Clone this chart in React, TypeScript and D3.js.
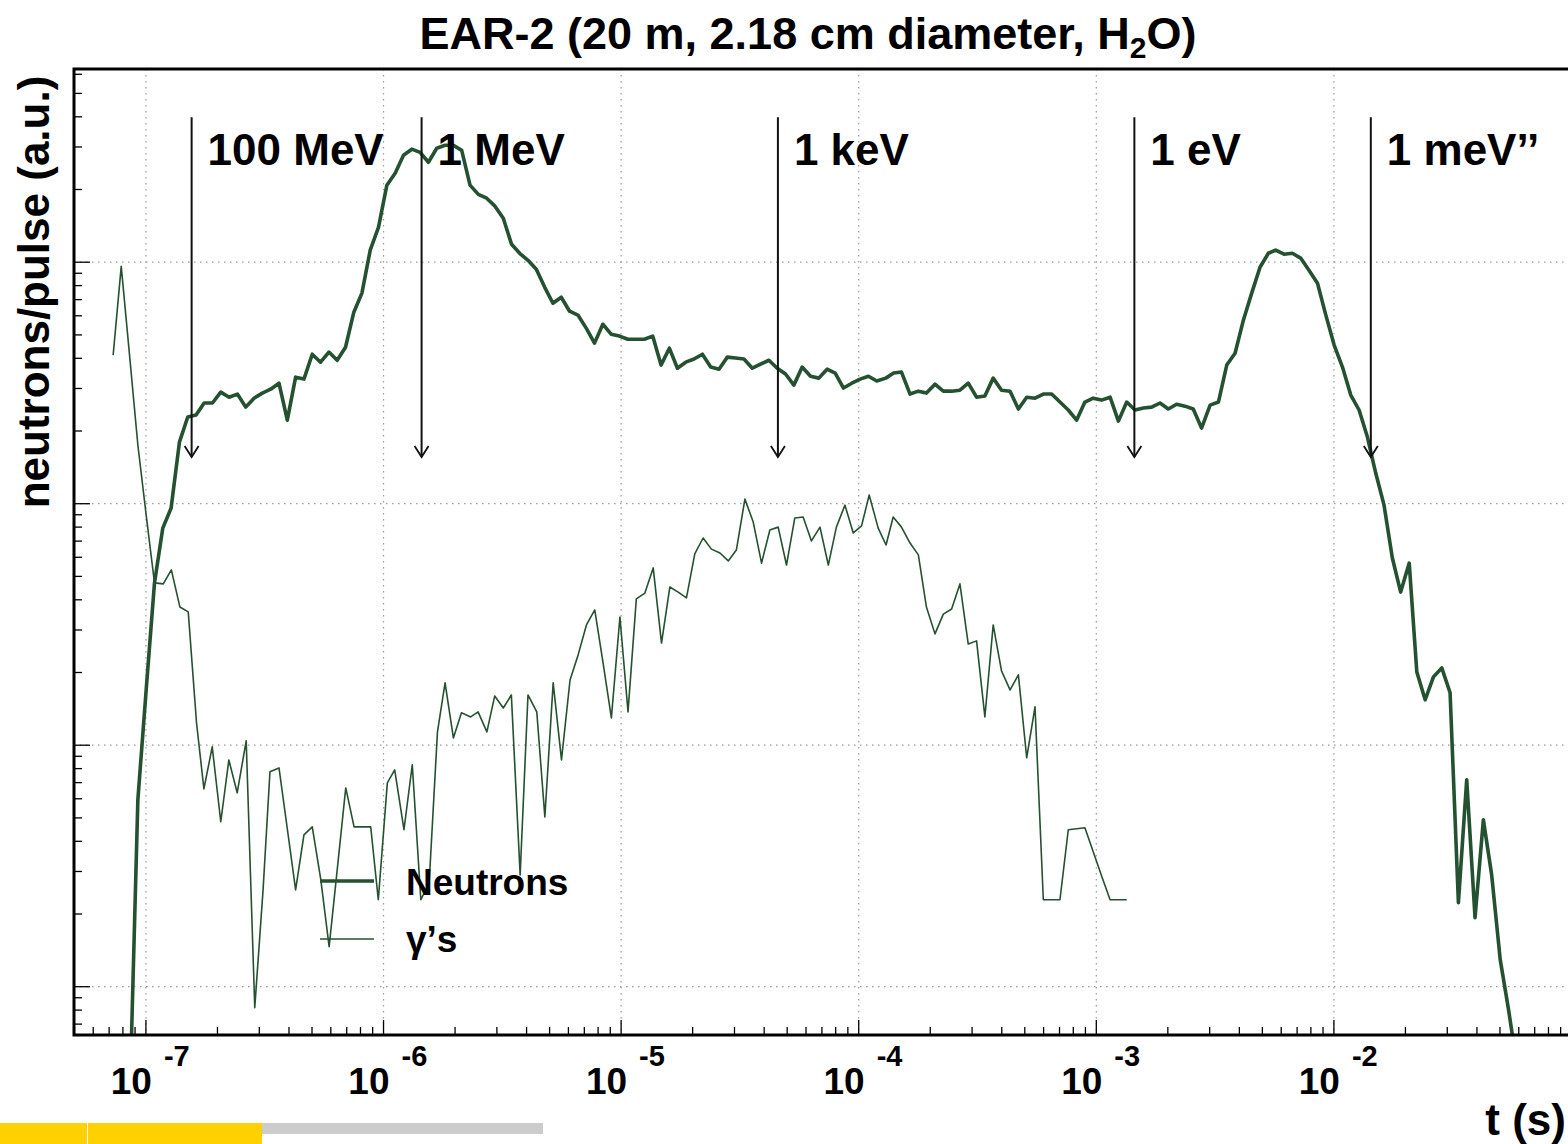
import React from "react";
import * as d3 from "d3";

// ---- data (log10 of time in s, log10 of neutrons/pulse in a.u.) ----
const neutrons: [number, number][] = [
  [-7.069,0.491],[-7.034,1.774],[-6.999,2.229],[-6.964,2.672],[-6.929,2.899],[-6.894,2.982],[-6.859,3.255],[-6.824,3.359],[-6.789,3.367],[-6.755,3.417],
  [-6.720,3.417],[-6.685,3.462],[-6.650,3.441],[-6.615,3.454],[-6.580,3.400],[-6.545,3.437],[-6.510,3.458],[-6.475,3.474],[-6.440,3.499],[-6.405,3.346],
  [-6.370,3.524],[-6.335,3.516],[-6.300,3.619],[-6.265,3.586],[-6.230,3.628],[-6.195,3.594],[-6.160,3.648],[-6.125,3.793],[-6.091,3.872],[-6.056,4.050],
  [-6.021,4.145],[-5.986,4.319],[-5.951,4.368],[-5.916,4.443],[-5.881,4.468],[-5.846,4.455],[-5.811,4.414],[-5.776,4.472],[-5.741,4.484],[-5.706,4.484],
  [-5.671,4.463],[-5.636,4.319],[-5.601,4.281],[-5.566,4.265],[-5.531,4.232],[-5.496,4.182],[-5.461,4.074],[-5.427,4.037],[-5.392,4.008],[-5.357,3.971],
  [-5.322,3.897],[-5.287,3.830],[-5.252,3.855],[-5.217,3.797],[-5.182,3.781],[-5.147,3.727],[-5.112,3.665],[-5.077,3.743],[-5.042,3.702],[-5.007,3.694],
  [-4.972,3.681],[-4.937,3.681],[-4.902,3.681],[-4.867,3.694],[-4.832,3.574],[-4.797,3.644],[-4.763,3.561],[-4.728,3.586],[-4.693,3.599],[-4.658,3.619],
  [-4.623,3.566],[-4.588,3.557],[-4.553,3.607],[-4.518,3.603],[-4.483,3.599],[-4.448,3.561],[-4.413,3.578],[-4.378,3.594],[-4.343,3.561],[-4.308,3.537],
  [-4.273,3.491],[-4.238,3.566],[-4.203,3.528],[-4.168,3.520],[-4.133,3.557],[-4.099,3.541],[-4.064,3.479],[-4.029,3.499],[-3.994,3.516],[-3.959,3.528],
  [-3.924,3.508],[-3.886,3.520],[-3.853,3.541],[-3.820,3.545],[-3.784,3.454],[-3.749,3.466],[-3.715,3.458],[-3.679,3.495],[-3.644,3.466],[-3.609,3.466],
  [-3.574,3.470],[-3.539,3.499],[-3.504,3.441],[-3.469,3.446],[-3.434,3.520],[-3.399,3.470],[-3.363,3.466],[-3.328,3.392],[-3.293,3.441],[-3.258,3.437],
  [-3.223,3.454],[-3.188,3.454],[-3.153,3.421],[-3.118,3.388],[-3.083,3.346],[-3.048,3.421],[-3.013,3.437],[-2.978,3.429],[-2.942,3.441],[-2.907,3.342],
  [-2.872,3.421],[-2.837,3.388],[-2.802,3.396],[-2.767,3.400],[-2.732,3.417],[-2.697,3.392],[-2.662,3.412],[-2.627,3.404],[-2.592,3.392],[-2.557,3.313],
  [-2.521,3.408],[-2.486,3.421],[-2.451,3.574],[-2.416,3.623],[-2.381,3.760],[-2.346,3.872],[-2.311,3.979],[-2.276,4.037],[-2.245,4.050],[-2.210,4.033],
  [-2.175,4.037],[-2.140,4.017],[-2.105,3.967],[-2.069,3.913],[-2.034,3.781],[-1.999,3.657],[-1.964,3.566],[-1.929,3.450],[-1.894,3.388],[-1.859,3.276],
  [-1.824,3.127],[-1.789,2.994],[-1.754,2.775],[-1.719,2.634],[-1.683,2.754],[-1.651,2.303],[-1.616,2.188],[-1.581,2.283],[-1.546,2.320],[-1.511,2.217],
  [-1.476,1.348],[-1.441,1.857],[-1.406,1.286],[-1.371,1.691],[-1.336,1.463],[-1.300,1.112],[-1.265,0.905],[-1.230,0.677],
];

const gammas: [number, number][] = [
  [-7.138,3.615],[-7.104,3.983],[-7.069,3.615],[-7.034,3.243],[-6.999,2.953],[-6.964,2.672],[-6.927,2.668],[-6.893,2.726],[-6.857,2.572],[-6.822,2.552],
  [-6.787,2.092],[-6.756,1.819],[-6.721,1.993],[-6.685,1.683],[-6.651,1.939],[-6.616,1.803],[-6.578,2.018],[-6.542,0.913],[-6.507,1.401],[-6.478,1.890],
  [-6.440,1.906],[-6.405,1.654],[-6.370,1.401],[-6.335,1.629],[-6.300,1.662],[-6.264,1.443],[-6.229,1.166],[-6.195,1.484],[-6.159,1.823],[-6.124,1.662],
  [-6.089,1.662],[-6.054,1.662],[-6.022,1.360],[-5.984,1.844],[-5.953,1.898],[-5.914,1.650],[-5.879,1.919],[-5.843,1.360],[-5.808,1.430],[-5.773,2.055],
  [-5.741,2.258],[-5.706,2.030],[-5.672,2.134],[-5.633,2.117],[-5.602,2.138],[-5.565,2.055],[-5.532,2.204],[-5.496,2.154],[-5.462,2.208],[-5.425,1.463],
  [-5.392,2.208],[-5.355,2.138],[-5.321,1.703],[-5.286,2.258],[-5.251,1.939],[-5.215,2.270],[-5.181,2.374],[-5.146,2.498],[-5.111,2.560],[-5.076,2.341],
  [-5.041,2.113],[-5.005,2.531],[-4.971,2.138],[-4.936,2.606],[-4.900,2.630],[-4.865,2.734],[-4.830,2.423],[-4.795,2.655],[-4.760,2.634],[-4.725,2.610],
  [-4.690,2.792],[-4.655,2.858],[-4.620,2.812],[-4.584,2.796],[-4.549,2.763],[-4.515,2.808],[-4.479,3.019],[-4.444,2.924],[-4.409,2.754],[-4.374,2.891],
  [-4.339,2.903],[-4.304,2.746],[-4.269,2.941],[-4.234,2.945],[-4.199,2.846],[-4.163,2.903],[-4.128,2.746],[-4.094,2.903],[-4.058,2.994],[-4.023,2.879],
  [-3.988,2.908],[-3.956,3.036],[-3.918,2.899],[-3.885,2.829],[-3.855,2.945],[-3.820,2.903],[-3.784,2.837],[-3.749,2.788],[-3.715,2.572],[-3.679,2.461],
  [-3.644,2.543],[-3.609,2.564],[-3.574,2.668],[-3.539,2.419],[-3.504,2.432],[-3.469,2.117],[-3.434,2.498],[-3.399,2.308],[-3.363,2.229],[-3.328,2.291],
  [-3.293,1.948],[-3.258,2.159],[-3.223,1.360],[-3.188,1.360],[-3.153,1.360],[-3.118,1.650],[-3.083,1.654],[-3.048,1.658],[-3.013,1.559],[-2.978,1.459],
  [-2.942,1.360],[-2.907,1.360],[-2.872,1.360],
];

const energyLabels = ["100 MeV", "1 MeV", "1 keV", "1 eV", "1 meV\u2019\u2019"];
const energyTimes = [1.557e-7, 1.446e-6, 4.57e-5, 1.446e-3, 1.43e-2];
const arrowTopValue = 39800;
const arrowTipValue = 1560;

const xTickExponents = [-7, -6, -5, -4, -3, -2];
const yGridValues = [1e1, 1e2, 1e3, 1e4];
const tDomain = [4.98e-8, 1e-1];
const yDomain = [6.31, 63096];

const legendItems = [
  { label: "Neutrons", width: 3.6 },
  { label: "\u03b3\u2019s", width: 1.6 },
];

const W = 1568, H = 1144;
const L = 74, T = 69, B = 1035, R = 1571.5;
const COLOR = "#24512f";
const FONT = "'Liberation Sans', Arial, Helvetica, sans-serif";

export default function App() {
  const x = d3.scaleLog().domain(tDomain).range([L, R]);
  const y = d3.scaleLog().domain(yDomain).range([B, T]);
  const line = d3
    .line<[number, number]>()
    .x((d) => x(Math.pow(10, d[0])))
    .y((d) => y(Math.pow(10, d[1])));

  const xMinor: number[] = [];
  for (let k = -8; k <= -2; k++)
    for (let m = 1; m <= 9; m++) {
      const v = m * Math.pow(10, k);
      if (v >= tDomain[0] && v <= tDomain[1]) xMinor.push(v);
    }
  const yMinor: number[] = [];
  for (let k = 0; k <= 4; k++)
    for (let m = 1; m <= 9; m++) {
      const v = m * Math.pow(10, k);
      if (v >= yDomain[0] && v <= yDomain[1]) yMinor.push(v);
    }
  const isDecade = (v: number) => Math.abs(Math.log10(v) - Math.round(Math.log10(v))) < 1e-6;

  return (
    <svg
      width={W}
      height={H}
      style={{ position: "absolute", left: 0, top: 0, background: "#fff" }}
      fontFamily={FONT}
      fontWeight="bold"
    >
      <defs>
        <clipPath id="frame">
          <rect x={L} y={T} width={R - L} height={B - T} />
        </clipPath>
      </defs>
      <rect x={0} y={0} width={W} height={H} fill="#fff" />

      {/* grid */}
      <g stroke="#9a9a9a" strokeWidth={1.2} strokeDasharray="1.5 4.5">
        {xTickExponents.map((e) => (
          <line key={e} x1={x(Math.pow(10, e))} x2={x(Math.pow(10, e))} y1={T} y2={B} />
        ))}
        {yGridValues.map((v) => (
          <line key={v} x1={L} x2={R} y1={y(v)} y2={y(v)} />
        ))}
      </g>

      {/* ticks */}
      <g stroke="#000" strokeWidth={1.3}>
        {xMinor.map((v, i) => (
          <line key={"xm" + i} x1={x(v)} x2={x(v)} y1={B} y2={B - (isDecade(v) ? 15 : 8)} />
        ))}
        {yMinor.map((v, i) => (
          <line key={"ym" + i} x1={L} x2={L + (isDecade(v) ? 16 : 8)} y1={y(v)} y2={y(v)} />
        ))}
      </g>

      {/* data */}
      <g clipPath="url(#frame)" fill="none" stroke={COLOR} strokeLinejoin="round">
        <path d={line(gammas) || ""} strokeWidth={1.6} />
        <path d={line(neutrons) || ""} strokeWidth={3.6} />
      </g>

      {/* energy arrows */}
      {energyTimes.map((t, i) => {
        const ax = x(t);
        const yt = y(arrowTopValue);
        const yb = y(arrowTipValue);
        return (
          <g key={i}>
            <line x1={ax} x2={ax} y1={yt} y2={yb} stroke="#111" strokeWidth={2} />
            <polyline
              points={`${ax - 7},${yb - 11} ${ax},${yb} ${ax + 7},${yb - 11}`}
              fill="none"
              stroke="#111"
              strokeWidth={1.8}
            />
            <text x={ax + 16} y={yt + 48} fontSize={44} fill="#000">
              {energyLabels[i]}
            </text>
          </g>
        );
      })}

      {/* legend */}
      {legendItems.map((it, i) => (
        <g key={it.label}>
          <line x1={320} x2={374} y1={881 + i * 58} y2={881 + i * 58} stroke={COLOR} strokeWidth={it.width} />
          <text x={406} y={895 + i * 57} fontSize={37} fill="#000">
            {it.label}
          </text>
        </g>
      ))}

      {/* frame */}
      <rect x={L} y={T} width={R - L} height={B - T} fill="none" stroke="#000" strokeWidth={3} />

      {/* x tick labels */}
      {xTickExponents.map((e) => {
        const tx = x(Math.pow(10, e));
        return (
          <g key={e} fill="#000">
            <text x={tx + 6} y={1094} fontSize={37} textAnchor="end">10</text>
            <text x={tx + 18} y={1066} fontSize={29}>{String(e)}</text>
          </g>
        );
      })}

      {/* title */}
      <text x={808} y={49} fontSize={45} textAnchor="middle" fill="#000">
        EAR-2 (20 m, 2.18 cm diameter, H
        <tspan fontSize={30} dy={9}>2</tspan>
        <tspan dy={-9}>O)</tspan>
      </text>

      {/* axis titles */}
      <text x={1566} y={1135} fontSize={44} textAnchor="end" fill="#000">t (s)</text>
      <text
        transform="translate(49,292) rotate(-90)"
        fontSize={44}
        textAnchor="middle"
        fill="#000"
      >
        neutrons/pulse (a.u.)
      </text>

      {/* footer bars */}
      <rect x={0} y={1123} width={87} height={21} fill="#FFD100" />
      <rect x={88} y={1123} width={174} height={21} fill="#FFD100" />
      <rect x={262} y={1123} width={281} height={11} fill="#CCCCCC" />
    </svg>
  );
}
